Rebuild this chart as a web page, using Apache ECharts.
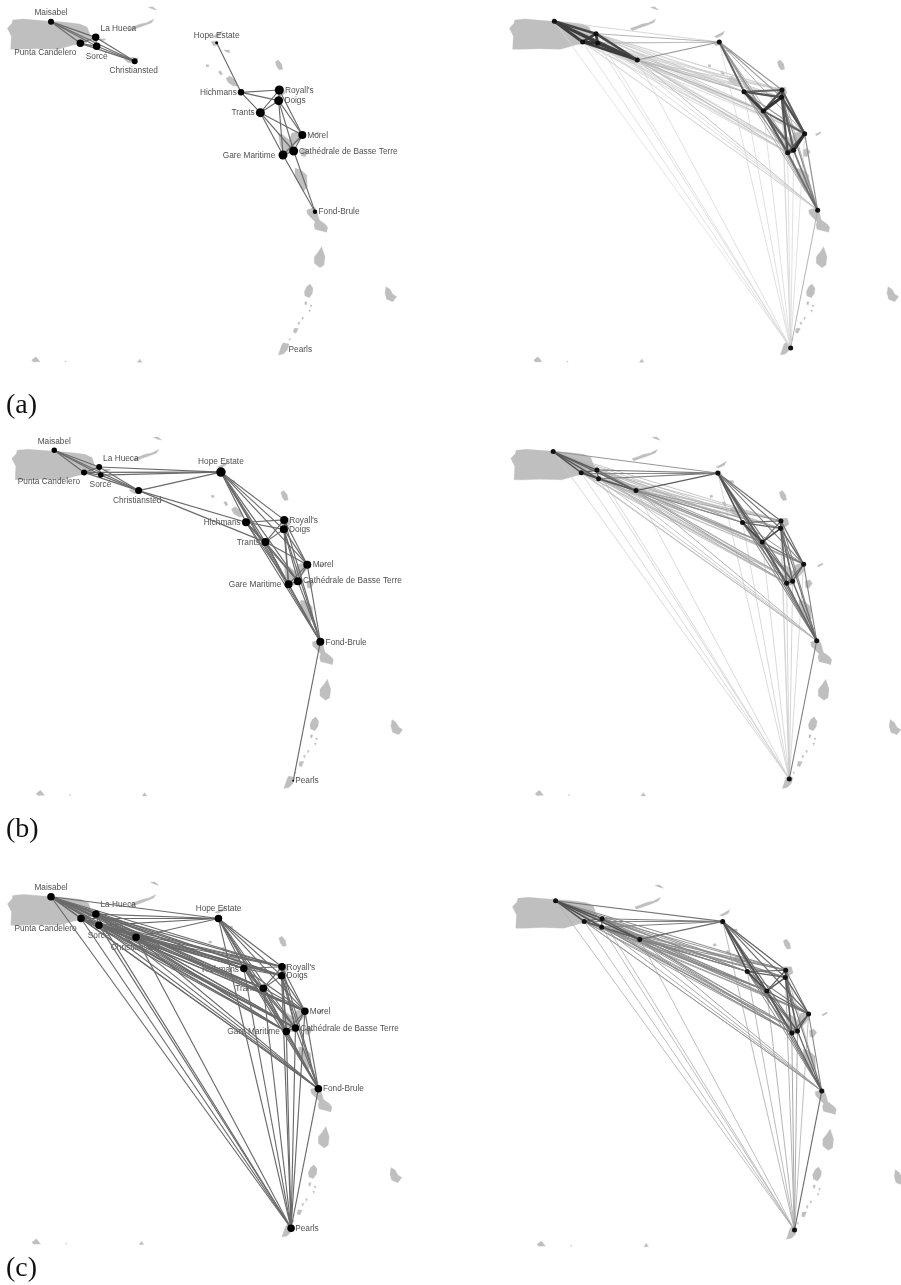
<!DOCTYPE html>
<html><head><meta charset="utf-8">
<style>html,body{margin:0;padding:0;background:#fff}#c{width:901px;height:1285px;filter:blur(0.35px)}</style>
<script src="https://cdn.jsdelivr.net/npm/echarts@6/dist/echarts.min.js"></script>
</head><body><div id="c"></div>
<script>
const sites = ["Maisabel","La Hueca","Punta Candelero","Sorcé","Christiansted","Hope Estate","Hichmans","Royall's","Doigs","Trants","Morel","Cathédrale de Basse Terre","Gare Maritime","Fond-Brule","Pearls"];

// Site map coordinates drawn in each panel
const xAL = [153,287,241,290,404,650,723,838,836,781,907,881,849,945,864];
const yAL = [65,112,130,139,184,128,277,270,302,338,405,453,465,635,1048];
const xAR = [157,282,242,287,406,652,726,840,839,784,908,875,857,947,866];
const yAR = [64,101,126,130,180,126,275,270,292,333,401,451,458,631,1044];
const xBL = [149,283,238,288,401,647,722,836,835,780,905,877,849,944,863];
const yBL = [60,110,126,134,180,125,274,267,295,333,400,449,458,629,1042];
const xBR = [149,280,233,285,397,642,716,831,830,775,899,866,848,938,856];
const yBR = [64,119,127,145,180,128,275,270,292,333,399,449,455,626,1037];
const xCL = [151,284,240,293,403,647,722,835,834,780,903,875,848,943,862];
const yCL = [64,115,128,148,183,128,275,270,296,333,401,450,460,629,1039];
const xCR = [150,288,235,287,400,646,719,833,832,777,901,868,851,940,859];
const yCR = [67,120,128,145,181,128,276,272,293,333,401,451,457,628,1038];

// Node sizes of the network panels on the left
const sizeA = [6,7.5,7.5,7.5,6,3,6.5,9,9,9,8,9,9,4.5,0];
const sizeB = [5.5,6,6,5.5,7,9.5,8,8,8,8,8,8,8,8,2];
const sizeC = [7.5,7.5,7.5,7.5,7.5,7.5,7.5,7.5,7.5,7.5,7.5,7.5,7.5,7.5,7.5];

// Similarity between sites, upper triangle, one table per period
const weightsA = [
 [.85,.9,.9,.85,.15,.12,.1,.1,.12,.1,.1,.12,.1,.08],
 [.9,.9,.85,.3,.2,.15,.15,.2,.12,.12,.15,.12,.1],
 [.95,.9,.2,.18,.12,.12,.18,.12,.12,.14,.12,.1],
 [.9,.25,.2,.15,.15,.2,.12,.12,.14,.12,.1],
 [.45,.3,.2,.2,.3,.2,.22,.25,.25,.1],
 [.7,.42,.4,.46,.32,.32,.38,.3,.1],
 [.7,.78,.9,.42,.42,.45,.32,.1],
 [.85,.8,.72,.48,.46,.3,.1],
 [.95,.8,.72,.78,.48,.1],
 [.7,.7,.75,.45,.1],
 [.95,.75,.45,.1],
 [.9,.6,.1],
 [.65,.1],
 [.3]];
const weightsB = [
 [.75,.8,.75,.7,.45,.3,.25,.25,.3,.25,.25,.3,.25,.15],
 [.7,.7,.65,.55,.32,.28,.28,.32,.25,.25,.3,.25,.15],
 [.8,.7,.5,.3,.25,.25,.3,.25,.25,.28,.25,.15],
 [.75,.55,.32,.27,.27,.32,.25,.25,.3,.25,.15],
 [.72,.52,.4,.4,.5,.38,.4,.42,.35,.15],
 [.8,.62,.6,.75,.55,.6,.68,.58,.15],
 [.65,.7,.85,.45,.52,.6,.5,.15],
 [.8,.65,.62,.48,.5,.52,.15],
 [.85,.7,.68,.7,.6,.15],
 [.62,.68,.72,.6,.15],
 [.72,.62,.55,.15],
 [.8,.7,.18],
 [.7,.18],
 [.55]];
const weightsC = [
 [.8,.8,.8,.8,.6,.5,.5,.5,.5,.45,.45,.5,.42,.3],
 [.7,.7,.7,.55,.5,.45,.45,.5,.42,.42,.48,.4,.3],
 [.75,.7,.52,.5,.42,.42,.48,.42,.42,.45,.4,.3],
 [.7,.55,.5,.45,.45,.5,.42,.42,.48,.4,.3],
 [.65,.55,.5,.5,.55,.48,.48,.5,.42,.3],
 [.8,.7,.68,.8,.65,.65,.72,.6,.32],
 [.7,.72,.85,.55,.55,.6,.5,.32],
 [.8,.7,.6,.6,.5,.3],
 [.8,.72,.72,.75,.6,.35],
 [.7,.72,.75,.6,.35],
 [.75,.7,.55,.3],
 [.8,.7,.38],
 [.7,.4],
 [.65]];

// Coastlines in map coordinates
const islands = [
 [[22,85],[36,70],[38,60],[70,57],[130,62],[190,66],[240,72],[262,82],[268,100],[275,112],[258,128],[220,135],[175,148],[110,146],[60,148],[32,148],[34,108]],
 [[300,116],[318,116],[312,122],[300,121]],
 [[445,22],[458,20],[470,30],[460,28]],
 [[385,85],[400,80],[420,72],[440,68],[462,57],[455,68],[430,78],[410,85],[390,92]],
 [[372,178],[395,172],[415,175],[405,190],[385,188]],
 [[636,110],[650,103],[668,93],[662,105],[645,113]],
 [[633,125],[650,122],[655,135],[640,137]],
 [[672,150],[688,150],[690,158],[678,156]],
 [[618,194],[626,194],[627,200],[619,201]],
 [[655,215],[662,212],[668,222],[662,226]],
 [[678,235],[690,228],[705,240],[715,258],[700,258],[685,248]],
 [[826,185],[835,180],[845,192],[848,208],[838,210],[830,200]],
 [[825,262],[850,262],[855,280],[840,290],[825,280]],
 [[835,400],[850,405],[868,420],[875,400],[900,393],[903,415],[885,435],[870,445],[872,460],[850,462],[840,435]],
 [[903,450],[916,445],[925,455],[915,470],[905,468]],
 [[940,403],[955,395],[957,399],[943,407]],
 [[885,505],[900,508],[920,525],[922,560],[910,575],[898,555],[885,530]],
 [[920,630],[945,622],[952,638],[958,660],[975,672],[983,682],[980,697],[965,693],[945,688],[942,675],[945,665],[930,650],[922,642]],
 [[965,740],[975,770],[972,795],[960,803],[943,790],[943,770],[955,755]],
 [[930,852],[939,865],[937,880],[928,893],[915,888],[913,875],[920,860]],
 [[915,905],[921,905],[919,915],[914,913]],
 [[930,915],[936,915],[933,922]],
 [[926,930],[932,930],[929,937]],
 [[905,952],[911,952],[907,960]],
 [[893,968],[900,965],[897,975]],
 [[882,985],[895,985],[888,1000],[880,997]],
 [[867,1016],[872,1016],[869,1022]],
 [[850,1028],[867,1032],[862,1050],[850,1062],[835,1065],[840,1050],[845,1035]],
 [[1158,860],[1170,868],[1178,882],[1190,890],[1178,905],[1160,898],[1155,880]],
 [[95,1080],[108,1070],[120,1085],[100,1086]],
 [[194,1083],[198,1083],[197,1087]],
 [[412,1087],[419,1077],[426,1087]]
];

const panelLetters = ["(a)","(b)","(c)"];

// ---- layout and style ----
const labelAnchors = {
 a:[[153,38],[355,86],[136,159],[290,170],[401,213],[650,106],[655,279],[898,272],[885,303],[729,339],[953,407],[1045,455],[747,466],[1017,636],[901,1048]],
 b:[[149,36],[348,85],[133,153],[287,162],[397,211],[647,93],[651,275],[894,269],[882,297],[729,334],[952,401],[1040,449],[749,460],[1021,631],[904,1042]],
 c:[[151,36],[350,88],[135,158],[292,179],[400,214],[647,100],[653,278],[891,272],[880,297],[731,335],[948,402],[1035,451],[751,461],[1017,630],[909,1039]]
};
const panels = [
 {left:0,  sx:1,    top:0,  sy:1,   xs:xAL,ys:yAL,w:weightsA,net:true, cut:.5, sizes:sizeA,anchors:labelAnchors.a},
 {left:502,sx:1,    top:0,  sy:1,   xs:xAR,ys:yAR,w:weightsA,net:false,wScale:2.6},
 {left:4.4,sx:1.004,top:430,sy:1.01,xs:xBL,ys:yBL,w:weightsB,net:true, cut:.5, sizes:sizeB,anchors:labelAnchors.b},
 {left:503.4,sx:1.002,top:430,sy:1.01,xs:xBR,ys:yBR,w:weightsB,net:false,wScale:1.3},
 {left:0,  sx:1.013,top:875,sy:1.02,xs:xCL,ys:yCL,w:weightsC,net:true, cut:.2, sizes:sizeC,anchors:labelAnchors.c},
 {left:505,sx:1.011,top:878,sy:1.02,xs:xCR,ys:yCR,w:weightsC,net:false,wScale:1.1}
];
const PAGE_W = 901, PANEL_W = 420, MAP_H = 1200;

const grid=[],xAxis=[],yAxis=[],series=[];
panels.forEach((p,i)=>{
  const gw=Math.min(PANEL_W*p.sx,PAGE_W-p.left);
  grid.push({left:p.left,top:p.top,width:gw,height:MAP_H/3*p.sy,containLabel:false});
  xAxis.push({type:'value',gridIndex:i,min:0,max:gw*3/p.sx,show:false});
  yAxis.push({type:'value',gridIndex:i,min:0,max:MAP_H,inverse:true,show:false});
  const axes={xAxisIndex:i,yAxisIndex:i};
  series.push({type:'custom',coordinateSystem:'cartesian2d',...axes,z:1,silent:true,clip:false,
    data:islands.map((_,k)=>[k]),
    encode:{x:[],y:[]},
    renderItem:(params,api)=>({type:'polygon',
      shape:{points:islands[api.value(0)].map(pt=>api.coord(pt))},
      style:{fill:'#bfbfbf',stroke:'#bfbfbf',lineWidth:.3}})});
  const edges=[];
  p.w.forEach((row,a)=>row.forEach((v,k)=>{
    const b=a+1+k;
    if(p.net && v<p.cut) return;
    edges.push({v,a,b});
  }));
  edges.sort((e,f)=>e.v-f.v);
  series.push({type:'lines',coordinateSystem:'cartesian2d',...axes,z:3,silent:true,polyline:false,
    data:edges.map(e=>{
      const g=Math.round(232-190*e.v);
      return {coords:[[p.xs[e.a],p.ys[e.a]],[p.xs[e.b],p.ys[e.b]]],
        lineStyle:p.net?{color:'#6a6a6a',width:1.15,opacity:1}
          :{color:`rgb(${g},${g},${g})`,width:.7+p.wScale*e.v*e.v,opacity:1}};
    })});
  if(p.net){
    series.push({type:'scatter',...axes,z:2,silent:true,symbolSize:1,itemStyle:{color:'transparent'},
      data:sites.map((s,k)=>({name:s,value:p.anchors[k]})),
      label:{show:true,position:'inside',formatter:'{b}',color:'#222',fontFamily:'Liberation Sans',fontSize:8.3}});
  }
  series.push({type:'scatter',...axes,z:4,silent:true,itemStyle:{color:p.net?'#000':'#111',opacity:1},
    data:sites.map((s,k)=>({name:s,value:[p.xs[k],p.ys[k]],symbolSize:p.net?p.sizes[k]:5}))});
});

const chart=echarts.init(document.getElementById('c'),null,{renderer:'canvas',width:901,height:1285});
chart.setOption({animation:false,backgroundColor:'#fff',grid,xAxis,yAxis,series,
  graphic:panelLetters.map((t,i)=>({type:'text',left:6,top:[392,816,1255][i],z:10,silent:true,
    style:{text:t,font:'28px "Liberation Serif"',fill:'#111'}}))});
</script></body></html>
